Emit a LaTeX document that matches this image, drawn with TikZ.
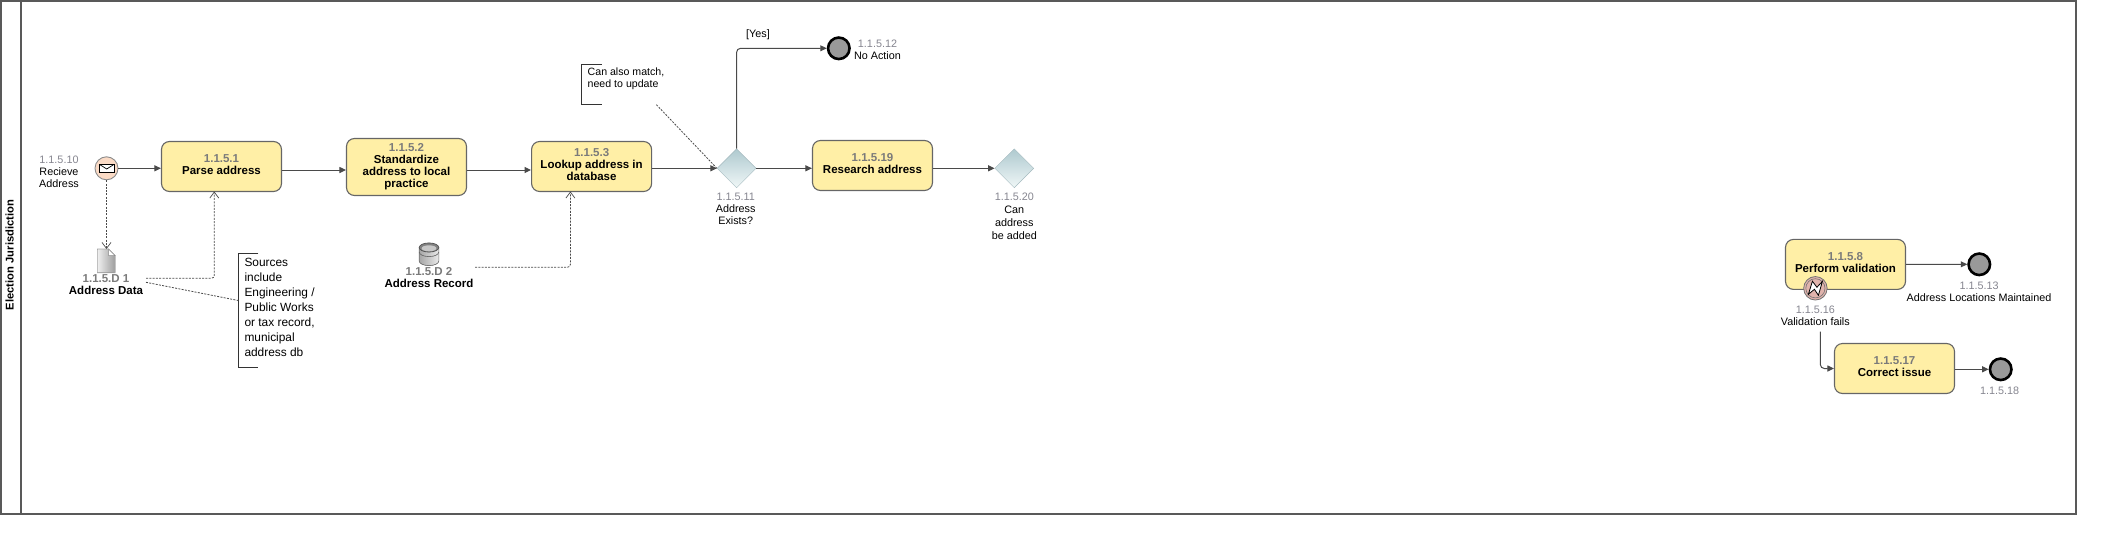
\documentclass[tikz,border=0pt]{standalone}
\usepackage{fontspec}
\setmainfont{Liberation Sans}
\usetikzlibrary{arrows.meta}
\usetikzlibrary{shapes.geometric}

\definecolor{taskfill}{HTML}{FFEFA6}
\definecolor{edgegray}{HTML}{666666}
\definecolor{linegray}{HTML}{4A4A4A}
\definecolor{numgray}{HTML}{85858F}
\definecolor{boldgray}{HTML}{7A7A7A}
\definecolor{gatetop}{HTML}{AEC9CF}
\definecolor{gatebot}{HTML}{F0F7F7}
\definecolor{startfill}{HTML}{FBDBC6}
\definecolor{boundfill}{HTML}{E0B3AC}
\newcommand{\numtxt}[1]{\textcolor{numgray}{#1}}
\newcommand{\numbold}[1]{\textcolor{boldgray}{#1}}

\begin{document}
\begin{tikzpicture}
		[x=1pt,y=-1pt,
		task/.style={rectangle,draw=edgegray,line width=1.1pt,fill=taskfill,rounded corners=8pt,align=center,inner sep=0pt,text depth=3.5pt,
			font=\fontsize{11.5}{12}\selectfont\bfseries},
		label/.style={align=center,inner sep=0pt,font=\fontsize{10.8}{12}\selectfont},
		boldlabel/.style={align=center,inner sep=0pt,font=\fontsize{11.5}{12}\selectfont\bfseries},
		note/.style={align=left,inner sep=0pt,anchor=north west},
		gate/.style={diamond,draw=gatetop!80!gray,line width=0.4pt,top color=gatetop,bottom color=gatebot,minimum width=39pt,minimum height=39pt,inner sep=0pt},
		endev/.style={circle,draw=black,line width=2.6pt,fill=black!40,minimum size=21.5pt,inner sep=0pt},
		flow/.style={draw=linegray,line width=1pt,-{Triangle[length=6.5pt,width=6pt]},rounded corners=4pt},
		dataflow/.style={draw=linegray,line width=0.8pt,dash pattern=on 2pt off 1.3pt,-{Straight Barb[length=6pt,width=9pt,line width=0.7pt]},rounded corners=3pt},
		assoc/.style={draw=linegray,line width=0.8pt,dash pattern=on 2pt off 1.3pt},
		bracket/.style={draw=black!80,line width=0.7pt},
		frame/.style={draw=black!65,line width=1.9pt}]
		\useasboundingbox (0,0) rectangle (2105,544);
		
		% pool
		\draw[frame] (1.2,1) rectangle (2076,514);
		\draw[frame] (21.4,1) -- (21.4,514);
		\node[boldlabel,rotate=90,font=\fontsize{11.2}{12}\selectfont\bfseries] (poolname) at (9.5,255) {Election Jurisdiction};
		
		% tasks
		\node[task,minimum width=120pt,minimum height=50pt] (t1) at (221.5,166.5) {\numbold{1.1.5.1}\\Parse address};
		\node[task,minimum width=120pt,minimum height=57pt] (t2) at (406.5,167) {\numbold{1.1.5.2}\\Standardize\\address to local\\practice};
		\node[task,minimum width=120pt,minimum height=50pt] (t3) at (591.6,166.5) {\numbold{1.1.5.3}\\Lookup address in\\database};
		\node[task,minimum width=120pt,minimum height=50pt] (t19) at (872.5,165.5) {\numbold{1.1.5.19}\\Research address};
		\node[task,minimum width=120pt,minimum height=50pt] (t8) at (1845.5,264.4) {\numbold{1.1.5.8}\\Perform validation};
		\node[task,minimum width=120pt,minimum height=50pt] (t17) at (1894.5,368.5) {\numbold{1.1.5.17}\\Correct issue};
		
		% start event
		\node[circle,draw=black!45,line width=0.9pt,fill=startfill,minimum size=23pt,inner sep=0pt] (ev10) at (106.5,168.3){};
		\filldraw[fill=white,draw=black,line width=0.9pt] (99.5,164.4) rectangle (114,172.6);
		\draw[black,line width=0.7pt] (99.5,164.4) -- (106.7,169) -- (114,164.4);
		\node[label] (l10) at (59,172) {\numtxt{1.1.5.10}\\Recieve\\Address};
		
		% gateways
		\node[gate] (gw11) at (736.6,168.3){};
		\node[gate] (gw20) at (1014.3,168.3){};
		\node[label] (l11) at (735.7,209) {\numtxt{1.1.5.11}\\Address\\Exists?};
		\node[label,font=\fontsize{10.8}{12.9}\selectfont] (l20) at (1014.3,216) {\numtxt{1.1.5.20}\\Can\\address\\be added};
		
		% end events
		\node[endev] (e12) at (838.8,48.3){};
		\node[endev] (e13) at (1979.3,264.3){};
		\node[endev] (e18) at (2000.7,369.3){};
		\node[label] (l12) at (877.5,50) {\numtxt{1.1.5.12}\\No Action};
		\node[label] (l13) at (1979,292) {\numtxt{1.1.5.13}\\Address Locations Maintained};
		\node[label] (l18) at (1999.7,391) {\numtxt{1.1.5.18}};
		\node[label] (yes) at (758,34.3) {[Yes]};
		
		% boundary event on t8
		\node[circle,draw=black!55,line width=0.8pt,fill=boundfill,minimum size=23.5pt,inner sep=0pt] (b16) at (1815.4,288.3){};
		\draw[black!55,line width=0.6pt] (b16) circle (9.6pt);
		\filldraw[fill=white,draw=black,line width=0.8pt] (1808.4,294.3) -- (1812.4,281.3) -- (1816.9,287.3) -- (1822.4,281.3) -- (1818.4,295.3) -- (1814.4,289.3) -- cycle;
		\node[label] (l16) at (1815.3,316) {\numtxt{1.1.5.16}\\Validation fails};
		\coordinate (b16out) at (1820.3,331.7);
		
		% data objects
		\filldraw[left color=black!6,right color=black!38,draw=black!35,line width=0.6pt] (97.3,249) -- (108.5,249) -- (115,255.5) -- (115,272.7) -- (97.3,272.7) -- cycle;
		\filldraw[fill=white,draw=black!45,line width=0.5pt] (108.5,249) -- (108.5,255.5) -- (115,255.5) -- cycle;
		\node[boldlabel] (d1) at (106,285) {\numbold{1.1.5.D 1}\\Address Data};
		\coordinate (d1out) at (146,278.3);
		\coordinate (d1note) at (146,282.3);
		
		\filldraw[left color=black!35,right color=black!8,draw=black!55,line width=0.6pt] (419.2,247.5) -- (419.2,261) arc[start angle=180,end angle=360,x radius=9.8pt,y radius=4.6pt] -- (438.8,247.5) -- cycle;
		\draw[black!60,line width=0.6pt] (419.2,252) arc[start angle=180,end angle=360,x radius=9.8pt,y radius=4.6pt];
		\filldraw[fill=black!50,draw=black!70,line width=0.6pt] (429,247.5) ellipse[x radius=9.8pt,y radius=4.6pt];
		\fill[black!22] (429,248.3) ellipse[x radius=7.4pt,y radius=3pt];
		\node[boldlabel] (d2) at (429,278) {\numbold{1.1.5.D 2}\\Address Record};
		\coordinate (d2out) at (475,267.3);
		
		% notes
		\node[note,minimum width=60pt,minimum height=114pt] (n1) at (238.3,253.3) {};
		\node[note,font=\fontsize{11.9}{15}\selectfont] (n1txt) at (244.3,258.4) {Sources\\include\\Engineering /\\Public Works\\or tax record,\\municipal\\address db};
		\draw[bracket] ([xshift=20pt]n1.north west) -- (n1.north west) -- (n1.south west) -- ([xshift=20pt]n1.south west);
		\node[note,minimum width=74.2pt,minimum height=40pt] (n2) at (581.8,64.3) {};
		\node[note,font=\fontsize{10.6}{12}\selectfont] (n2txt) at (587.5,68) {Can also match,\\need to update};
		\draw[bracket] ([xshift=20pt]n2.north west) -- (n2.north west) -- (n2.south west) -- ([xshift=20pt]n2.south west);
		
		% sequence flows
		\draw[flow] (ev10) -- (t1.west |- ev10);
		\draw[flow] ([yshift=-3.5pt]t1.east) -- ([yshift=-3pt]t2.west);
		\draw[flow] ([yshift=-3pt]t2.east) -- ([yshift=-3.5pt]t3.west);
		\foreach \from/\to in {t3/gw11,gw11/t19,t19/gw20}{
			\draw[flow] (\from.east |- gw11) -- (\to.west |- gw11);
		}
		\draw[flow] (gw11.north) |- (e12.west);
		\draw[flow] (t8.east) -- (e13.west);
		\draw[flow] (t17.east |- e18) -- (e18.west);
		\draw[flow] (b16out) |- (t17.west);
		
		% data flows and associations
		\draw[dataflow] (ev10.south) -- (106.5,249);
		\draw[dataflow] (d1out) -| (214.3,191.5);
		\draw[dataflow] (d2out) -| (570.4,191.5);
		\draw[assoc] (d1note) -- ([yshift=10pt]n1.west);
		\draw[assoc] (n2.south east) -- (gw11.west);
		
	\end{tikzpicture}
\end{document}
